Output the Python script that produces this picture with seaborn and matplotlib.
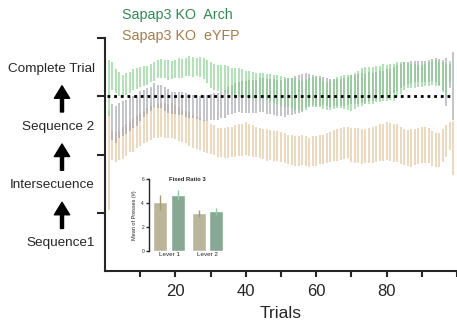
#!/usr/bin/env python3
"""Sequence completion across trials, Sapap3 KO Arch vs eYFP, with lever-press inset."""

import numpy as np
import pandas as pd
import matplotlib
matplotlib.use("Agg")
import matplotlib.pyplot as plt
import seaborn as sns

nan = np.nan

# trial-by-trial mean and sem (y units: 0 = bottom, 3 = dotted reference line)
trials = list(range(1, 100))

arch_mean = [3.14, 3.35, 3.26, 3.21, 3.18, 3.21, 3.24, 3.28, 3.30, 3.33,
             3.35, 3.36, 3.40, 3.43, 3.47, 3.48, 3.47, 3.45, 3.45, 3.47,
             3.48, 3.48, 3.50, 3.52, 3.50, 3.50, 3.50, 3.47, 3.42, 3.36,
             3.33, 3.31, 3.30, 3.30, 3.28, 3.26, 3.24, 3.24, 3.23, 3.21,
             3.19, 3.19, 3.18, 3.18, 3.18, 3.16, 3.14, 3.12, 3.11, 3.09,
             3.07, 3.07, 3.06, 3.04, 3.02, 3.00, 3.02, 3.06, 3.07, 3.07,
             3.06, 3.02, 3.00, 3.02, 3.04, 3.06, 3.07, 3.07, 3.06, 3.06,
             3.09, 3.12, 3.16, 3.18, 3.19, 3.19, 3.21, 3.21, 3.23, 3.23,
             3.24, 3.24, 3.28, 3.31, 3.35, 3.36, 3.35, 3.35, 3.35, 3.35,
             3.36, 3.38, 3.40, 3.40, 3.38, 3.33, 3.28, 3.42, nan]
arch_sem = [0.48, 0.24, 0.21, 0.20, 0.19, 0.19, 0.18, 0.18, 0.18, 0.17,
            0.17, 0.16, 0.16, 0.16, 0.15, 0.16, 0.16, 0.17, 0.16, 0.16,
            0.17, 0.16, 0.16, 0.17, 0.17, 0.16, 0.17, 0.18, 0.20, 0.22,
            0.23, 0.22, 0.23, 0.24, 0.24, 0.23, 0.24, 0.25, 0.24, 0.23,
            0.24, 0.23, 0.22, 0.22, 0.22, 0.23, 0.24, 0.24, 0.25, 0.25,
            0.26, 0.25, 0.26, 0.27, 0.26, 0.27, 0.26, 0.25, 0.26, 0.26,
            0.25, 0.24, 0.24, 0.25, 0.26, 0.27, 0.28, 0.29, 0.30, 0.31,
            0.31, 0.31, 0.32, 0.32, 0.32, 0.32, 0.31, 0.31, 0.32, 0.31,
            0.31, 0.32, 0.30, 0.27, 0.24, 0.21, 0.20, 0.20, 0.19, 0.19,
            0.19, 0.20, 0.21, 0.22, 0.21, 0.25, 0.28, 0.18, nan]

yfp_mean = [1.91, 2.15, 2.13, 2.16, 2.20, 2.25, 2.30, 2.33, 2.39, 2.42,
            2.47, 2.51, 2.54, 2.56, 2.58, 2.59, 2.59, 2.58, 2.58, 2.56,
            2.52, 2.49, 2.47, 2.44, 2.40, 2.37, 2.35, 2.32, 2.30, 2.27,
            2.25, 2.21, 2.21, 2.20, 2.21, 2.21, 2.23, 2.25, 2.25, 2.27,
            2.25, 2.23, 2.21, 2.20, 2.18, 2.16, 2.16, 2.15, 2.15, 2.13,
            2.11, 2.09, 2.08, 2.06, 2.06, 2.08, 2.06, 2.04, 2.06, 2.06,
            2.08, 2.09, 2.11, 2.13, 2.15, 2.16, 2.18, 2.20, 2.21, 2.16,
            2.15, 2.15, 2.13, 2.15, 2.15, 2.16, 2.18, 2.20, 2.21, 2.23,
            2.21, 2.20, 2.20, 2.16, 2.13, 2.11, 2.11, 2.13, 2.15, 2.16,
            2.16, 2.15, 2.11, 2.08, 2.08, 2.15, 2.23, 2.32, 2.11]
yfp_sem = [0.86, 0.25, 0.26, 0.25, 0.27, 0.27, 0.26, 0.28, 0.27, 0.28,
           0.28, 0.29, 0.29, 0.28, 0.29, 0.29, 0.30, 0.29, 0.30, 0.29,
           0.29, 0.28, 0.28, 0.29, 0.28, 0.28, 0.27, 0.27, 0.27, 0.26,
           0.26, 0.25, 0.25, 0.26, 0.27, 0.26, 0.27, 0.28, 0.27, 0.28,
           0.28, 0.27, 0.26, 0.26, 0.26, 0.27, 0.26, 0.26, 0.26, 0.26,
           0.26, 0.25, 0.26, 0.26, 0.25, 0.26, 0.25, 0.25, 0.26, 0.25,
           0.25, 0.25, 0.26, 0.26, 0.27, 0.27, 0.27, 0.28, 0.27, 0.29,
           0.30, 0.30, 0.30, 0.29, 0.30, 0.31, 0.31, 0.32, 0.32, 0.33,
           0.33, 0.33, 0.33, 0.32, 0.31, 0.31, 0.32, 0.31, 0.31, 0.31,
           0.31, 0.30, 0.30, 0.29, 0.29, 0.28, 0.27, 0.24, 0.46]

grey_mean = [nan, 2.56, 2.52, 2.58, 2.61, 2.64, 2.70, 2.73, 2.76, 2.83,
             2.88, 2.92, 2.95, 3.02, 3.00, 2.99, 2.95, 2.92, 2.88, 2.88,
             2.87, 2.87, 2.85, 2.83, 2.82, 2.82, 2.80, 2.80, 2.80, 2.82,
             2.82, 2.82, 2.85, 2.87, 2.92, 2.95, 2.97, 2.99, 2.99, 2.99,
             3.00, 3.00, 3.00, 3.02, 3.02, 3.00, 2.99, 2.99, 2.97, 2.97,
             2.97, 2.99, 3.00, 3.02, 3.04, 3.07, 3.11, 3.11, 3.11, 3.09,
             3.09, 3.09, 3.07, 3.06, 3.06, 3.06, 3.07, 3.07, 3.09, 3.11,
             3.11, 3.12, 3.14, 3.14, 3.16, 3.16, 3.18, 3.19, 3.21, 3.23,
             3.24, 3.28, 3.31, 3.35, 3.38, 3.40, 3.42, 3.42, 3.42, 3.42,
             3.42, 3.43, 3.45, 3.45, 3.42, 3.36, 3.24, 3.35, 3.18]
grey_sem = [nan, 0.31, 0.32, 0.30, 0.30, 0.29, 0.29, 0.28, 0.27, 0.26,
            0.23, 0.22, 0.21, 0.21, 0.20, 0.20, 0.21, 0.20, 0.19, 0.19,
            0.20, 0.20, 0.21, 0.21, 0.20, 0.21, 0.21, 0.22, 0.22, 0.22,
            0.23, 0.23, 0.23, 0.24, 0.24, 0.25, 0.26, 0.26, 0.27, 0.27,
            0.28, 0.28, 0.28, 0.29, 0.29, 0.30, 0.30, 0.31, 0.31, 0.31,
            0.32, 0.32, 0.32, 0.33, 0.33, 0.32, 0.29, 0.27, 0.26, 0.25,
            0.25, 0.24, 0.24, 0.24, 0.23, 0.23, 0.23, 0.24, 0.24, 0.25,
            0.25, 0.26, 0.26, 0.25, 0.25, 0.24, 0.24, 0.24, 0.23, 0.23,
            0.23, 0.22, 0.22, 0.21, 0.20, 0.19, 0.19, 0.18, 0.18, 0.18,
            0.18, 0.19, 0.19, 0.20, 0.22, 0.26, 0.41, 0.20, 0.58]

level_labels = ["Sequence1", "Intersecuence", "Sequence 2", "Complete Trial"]
xtick_labels = ["", "20", "", "40", "", "60", "", "80", "", ""]

# inset: fixed ratio 3 lever presses
levers = ["Lever 1", "Lever 2"]
inset_groups = ["eYFP", "Arch"]
presses_yfp = [4.05, 3.15]
presses_arch = [4.65, 3.30]
presses_yfp_sem = [0.60, 0.30]
presses_arch_sem = [0.40, 0.28]

GREEN = "#7ccf82"
GREY = "#9a9aa6"
TAN = "#e3bd90"

sns.set_style("ticks")
plt.rcParams["font.family"] = ["Liberation Sans", "DejaVu Sans"]

fig = plt.figure(figsize=(4.57, 3.27), dpi=100)
ax = fig.add_axes([105 / 457, 1 - 271 / 327, 352 / 457, 233 / 327])

ax.errorbar(trials, yfp_mean, yerr=yfp_sem, fmt="none", ecolor=TAN,
            elinewidth=1.4, alpha=0.6, capsize=0)
ax.errorbar(trials, grey_mean, yerr=grey_sem, fmt="none", ecolor=GREY,
            elinewidth=1.4, alpha=0.6, capsize=0)
ax.errorbar(trials, arch_mean, yerr=arch_sem, fmt="none", ecolor=GREEN,
            elinewidth=1.4, alpha=0.6, capsize=0)
ax.hlines(3, 0.6, 98.8, colors="black", linewidth=2.0, linestyles=(0, (1, 1.4)))

ax.set_xlim(0, 100)
ax.set_ylim(0, 4)
ax.set_xticks(range(10, 101, 10))
ax.set_xticklabels(xtick_labels, fontsize=12)
ax.set_yticks([1, 2, 3, 4])
ax.set_yticklabels([])
ax.set_yticks([0.5, 1.5, 2.5, 3.5], minor=True)
ax.set_yticklabels(level_labels, minor=True, fontsize=9.7)
ax.tick_params(axis="y", which="minor", length=0, pad=7.5)
ax.tick_params(axis="y", which="major", length=6, width=1.5)
ax.tick_params(axis="x", which="major", length=4, width=1.5, pad=5.5)
ax.set_xlabel("Trials", fontsize=12.5, labelpad=5)
for side in ["left", "bottom"]:
    ax.spines[side].set_linewidth(1.5)
sns.despine(ax=ax)

# arrows between the stage labels
for lvl in [1, 2, 3]:
    ax.annotate("", xy=(62 / 457, lvl + 0.18), xytext=(62 / 457, lvl - 0.27),
                xycoords=("figure fraction", "data"),
                textcoords=("figure fraction", "data"),
                arrowprops=dict(facecolor="black", edgecolor="black",
                                width=2.2, headwidth=11, headlength=9, shrink=0),
                annotation_clip=False)

fig.text(122 / 457, 1 - 15 / 327, "Sapap3 KO  Arch", color="#2f8a52",
         fontsize=10.3, va="center", ha="left")
fig.text(122 / 457, 1 - 36 / 327, "Sapap3 KO  eYFP", color="#a57c4a",
         fontsize=10.3, va="center", ha="left")

# inset bar chart
ins = fig.add_axes([149 / 457, 1 - 251 / 327, 76 / 457, 72 / 327])
ins.patch.set_alpha(0)
bars = pd.DataFrame({
    "lever": levers * 2,
    "group": [inset_groups[0]] * 2 + [inset_groups[1]] * 2,
    "presses": presses_yfp + presses_arch,
})
sns.barplot(data=bars, x="lever", y="presses", hue="group", order=levers,
            hue_order=inset_groups, palette=["#bfb996", "#80ae93"],
            errorbar=None, width=0.9, gap=0.2, legend=False, ax=ins)
err_colors = ["#a49c6c", "#8ccf9e"]
for cont, sems, ec in zip(ins.containers, [presses_yfp_sem, presses_arch_sem], err_colors):
    xs = [b.get_x() + b.get_width() / 2 for b in cont]
    hs = [b.get_height() for b in cont]
    ins.errorbar(xs, hs, yerr=sems, fmt="none", ecolor=ec, elinewidth=1.0, capsize=0)
ins.set_xlim(-0.52, 1.45)
ins.set_ylim(0, 6)
ins.set_yticks([0, 2, 4, 6])
ins.tick_params(axis="y", labelsize=3.5, length=2, width=1, pad=1.5)
ins.tick_params(axis="x", labelsize=4.5, length=0, pad=1)
ins.set_xlabel("")
ins.set_ylabel("Mean of Presses (#)", fontsize=4, labelpad=3)
ins.set_title("Fixed Ratio 3", fontsize=4.2, fontweight="bold", pad=0, y=0.97)
ins.spines["left"].set_linewidth(1.0)
sns.despine(ax=ins, bottom=True)

fig.savefig("out.png", dpi=100)
